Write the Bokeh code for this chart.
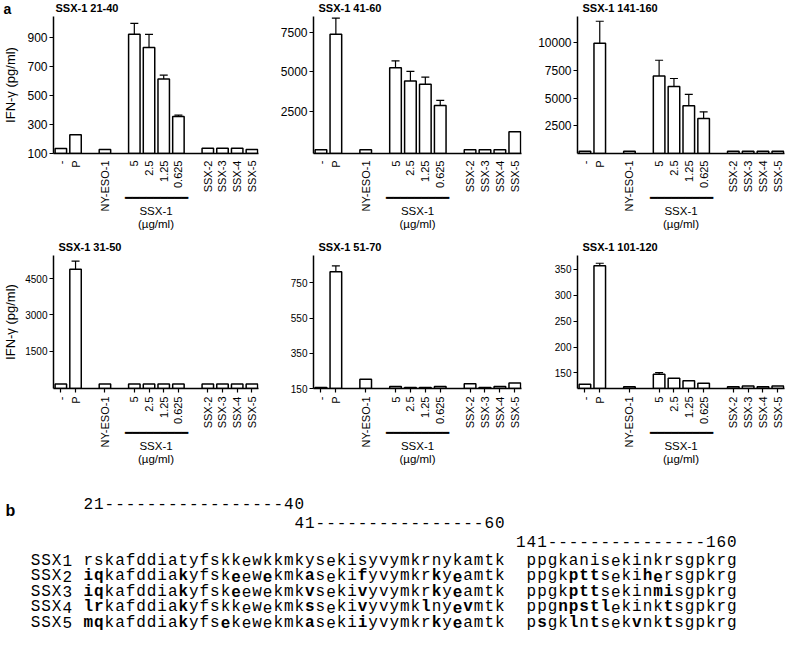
import math
from bokeh.plotting import figure
from bokeh.models import (Range1d, FixedTicker, LinearAxis, ColumnDataSource,
                          Whisker, TeeHead)
from bokeh.layouts import column, row
from bokeh.embed import file_html
from bokeh.resources import INLINE
from bokeh.core.properties import value

# ---------------- data ----------------
categories = ["-", "P", "NY-ESO-1", "5", "2.5", "1.25", "0.625",
              "SSX-2", "SSX-3", "SSX-4", "SSX-5"]
category_groups = [2, 1, 4, 4]
conc_group_label = ["SSX-1", "(µg/ml)"]

titles = ["SSX-1 21-40", "SSX-1 41-60", "SSX-1 141-160",
          "SSX-1 31-50", "SSX-1 51-70", "SSX-1 101-120"]
panel_letters = ["a", "b"]

ifn_21_40 = [135, 230, 128, 923, 832, 614, 355, 137, 137, 137, 128]
err_21_40 = [0, 0, 0, 75, 90, 26, 10, 0, 0, 0, 0]
ifn_41_60 = [120, 7360, 120, 5270, 4430, 4220, 2890, 120, 120, 120, 1250]
err_41_60 = [0, 1020, 0, 430, 610, 460, 320, 0, 0, 0, 0]
ifn_141_160 = [200, 9950, 200, 7000, 6050, 4310, 3160, 200, 200, 200, 200]
err_141_160 = [0, 1990, 0, 1420, 720, 1030, 600, 0, 0, 0, 0]
ifn_31_50 = [150, 4880, 150, 150, 150, 150, 150, 150, 150, 150, 150]
err_31_50 = [0, 340, 0, 0, 0, 0, 0, 0, 0, 0, 0]
ifn_51_70 = [155, 813, 202, 161, 155, 155, 161, 177, 155, 161, 181]
err_51_70 = [0, 33, 0, 0, 0, 0, 0, 0, 0, 0, 0]
ifn_101_120 = [128, 357, 123.5, 147.5, 140, 135, 130, 123.5, 125, 123.5, 125]
err_101_120 = [0, 5, 0, 3, 0, 0, 0, 0, 0, 0, 0]

yticks_21_40 = [100, 300, 500, 700, 900]
yticks_41_60 = [2500, 5000, 7500]
yticks_141_160 = [2500, 5000, 7500, 10000]
yticks_31_50 = [1500, 3000, 4500]
yticks_51_70 = [150, 350, 550, 750]
yticks_101_120 = [150, 200, 250, 300, 350]

y_label = "IFN-γ (pg/ml)"

# panel b: sequence alignment
seq_names = ["SSX1", "SSX2", "SSX3", "SSX4", "SSX5"]
seq_21_60 = ["rskafddiatyfskkewkkmkysekisyvymkrnykamtk",
             "iqkafddiakyfskeewekmkasekifyvymkrkyeamtk",
             "iqkafddiakyfskeewekmkvsekivyvymkrkyeamtk",
             "lrkafddiakyfskkewekmkssekivyvymklnyevmtk",
             "mqkafddiakyfsekewekmkasekiiyvymkrkyeamtk"]
bold_21_60 = [[],
              [0, 1, 9, 14, 17, 21, 26, 33, 35],
              [0, 1, 9, 14, 21, 26, 33, 35],
              [0, 1, 9, 21, 26, 32, 35, 36],
              [0, 1, 9, 13, 21, 26, 33, 35]]
seq_141_160 = ["ppgkanisekinkrsgpkrg",
               "ppgkpttsekihersgpkrg",
               "ppgkpttsekinmisgpkrg",
               "ppgnpstlekinktsgpkrg",
               "psgklntsekvnktsgpkrg"]
bold_141_160 = [[],
                [4, 5, 6, 11, 12],
                [4, 5, 6, 12, 13],
                [3, 4, 5, 6, 7, 13],
                [1, 4, 6, 10, 13]]
headers = ["21-----------------40", "41----------------60", "141---------------160"]

# ---------------- layout / style ----------------
FONT = "Liberation Sans"
MONO = "Liberation Mono"

xpos = []
_p = 0
for g in category_groups:
    for _ in range(g):
        xpos.append(_p)
        _p += 1
    _p += 1
X_RANGE = (-0.5, 13.45)

W = [265, 260, 260]      # figure widths per column
L = [50, 48, 52]         # left borders
R = [7, 4, 1]            # right borders
TOTAL_W = sum(W)
STRIP_H = 16
ROW1_H, ROW1_TOP, ROW1_BOTTOM = 216, 0, 77
ROW2_H, ROW2_TOP, ROW2_BOTTOM = 235, 23, 74
B_H = 181


def make_panel(title, vals, errs, yticks, yr, col, height, top, bottom,
               bottom_row, ylabel=None):
    width, left, right = W[col], L[col], R[col]
    p = figure(width=width, height=height, x_range=Range1d(*X_RANGE), y_range=Range1d(*yr),
               output_backend="svg", toolbar_location=None, x_axis_type=None, y_axis_type=None,
               min_border_left=left, min_border_right=right, min_border_top=top,
               min_border_bottom=bottom)
    p.outline_line_color = None
    p.background_fill_color = "white"
    p.border_fill_color = "white"
    if title:
        p.title.text = title
        p.title.text_font = FONT
        p.title.text_font_size = "11px"
        p.title.text_font_style = "bold"
        p.title.text_color = "black"
        p.title.align = "left"
        p.title.offset = 5
        p.title.standoff = 5

    src = ColumnDataSource(dict(x=xpos, top=vals))
    p.vbar(x="x", top="top", bottom=yr[0], width=0.78, source=src,
           fill_color="white", line_color="black", line_width=1.5)

    ex, eu, el = [], [], []
    for x, v, e in zip(xpos, vals, errs):
        if e > 0:
            ex.append(x); eu.append(v + e); el.append(v - e)
    esrc = ColumnDataSource(dict(x=ex, upper=eu, lower=el))
    p.add_layout(Whisker(source=esrc, base="x", upper="upper", lower="lower",
                         line_color="black", line_width=1.2,
                         upper_head=TeeHead(size=8, line_color="black", line_width=1.2),
                         lower_head=TeeHead(size=8, line_color="black", line_width=1.2)))

    xa = LinearAxis(ticker=FixedTicker(ticks=xpos, minor_ticks=[]),
                    major_label_overrides={x: c for x, c in zip(xpos, categories)},
                    major_label_orientation=math.pi / 2,
                    major_label_text_font=FONT, major_label_text_font_size="11px",
                    major_label_text_color="black",
                    axis_line_color="black", axis_line_width=1.5,
                    major_tick_line_color="black", major_tick_line_width=1.2,
                    major_tick_in=0, major_tick_out=4 if bottom_row else 0,
                    minor_tick_in=0, minor_tick_out=0,
                    major_label_standoff=4 if bottom_row else 7,
                    axis_label="━━━━━━━━━\n" + conc_group_label[0] + "\n" + conc_group_label[1],
                    axis_label_text_font=FONT, axis_label_text_font_size="11.5px",
                    axis_label_text_font_style="normal", axis_label_text_color="black",
                    axis_label_text_line_height=1.05,
                    axis_label_standoff=-23 if bottom_row else -22)
    p.add_layout(xa, "below")

    ya = LinearAxis(ticker=FixedTicker(ticks=yticks, minor_ticks=[]),
                    major_label_text_font=FONT,
                    major_label_text_font_size="10px" if bottom_row else "12px",
                    major_label_text_color="black",
                    axis_line_color="black", axis_line_width=1.5,
                    major_tick_line_color="black", major_tick_line_width=1.2,
                    major_tick_in=0, major_tick_out=4, minor_tick_in=0, minor_tick_out=0,
                    major_label_standoff=2)
    if ylabel:
        ya.axis_label = ylabel
        ya.axis_label_text_font = FONT
        ya.axis_label_text_font_size = "13px"
        ya.axis_label_text_font_style = "normal"
        ya.axis_label_text_color = "black"
        ya.axis_label_standoff = 4 if bottom_row else 6
    p.add_layout(ya, "left")
    return p


# top strip with panel letter "a" and the titles of the first row
strip = figure(width=TOTAL_W, height=STRIP_H, x_range=Range1d(0, TOTAL_W),
               y_range=Range1d(STRIP_H, 0), output_backend="svg", toolbar_location=None,
               x_axis_type=None, y_axis_type=None, min_border=0)
strip.outline_line_color = None
frame_lefts = [L[0], W[0] + L[1], W[0] + W[1] + L[2]]
strip.text(x=[3], y=[8], text=[panel_letters[0]], text_font=value(FONT),
           text_font_size=value("14px"), text_font_style="bold", text_align="left",
           text_baseline="middle", text_color="black")
strip.text(x=[fl + 5 for fl in frame_lefts], y=[7.5, 7.5, 7.5], text=titles[:3],
           text_font=value(FONT), text_font_size=value("11px"), text_font_style="bold",
           text_align="left", text_baseline="middle", text_color="black")

f1 = make_panel(None, ifn_21_40, err_21_40, yticks_21_40, (100, 1045),
                0, ROW1_H, ROW1_TOP, ROW1_BOTTOM, False, ylabel=y_label)
f2 = make_panel(None, ifn_41_60, err_41_60, yticks_41_60, (-120, 8480),
                1, ROW1_H, ROW1_TOP, ROW1_BOTTOM, False)
f3 = make_panel(None, ifn_141_160, err_141_160, yticks_141_160, (0, 12370),
                2, ROW1_H, ROW1_TOP, ROW1_BOTTOM, False)
f4 = make_panel(titles[3], ifn_31_50, err_31_50, yticks_31_50, (-40, 5450),
                0, ROW2_H, ROW2_TOP, ROW2_BOTTOM, True, ylabel=y_label)
f5 = make_panel(titles[4], ifn_51_70, err_51_70, yticks_51_70, (150, 905),
                1, ROW2_H, ROW2_TOP, ROW2_BOTTOM, True)
f6 = make_panel(titles[5], ifn_101_120, err_101_120, yticks_101_120, (120, 377),
                2, ROW2_H, ROW2_TOP, ROW2_BOTTOM, True)

# ---------------- panel b ----------------
CW = 10.55                       # px per character column
B_TOP = STRIP_H + ROW1_H + ROW2_H  # page y of panel-b top
x0 = -83 / CW                     # column 0 at page x = 83
pb = figure(width=TOTAL_W, height=B_H, x_range=Range1d(x0, x0 + TOTAL_W / CW),
            y_range=Range1d(B_TOP + B_H, B_TOP), output_backend="svg",
            toolbar_location=None, x_axis_type=None, y_axis_type=None, min_border=0)
pb.outline_line_color = None
pb.border_fill_color = "white"

header_cols = [0, 20, 41]
header_y = [503, 522, 541]
row_y = [560, 575.5, 591, 606.5, 622]
block2_col = 42
SEQ_SIZE = "16px"

nx, ny, nt, bx, by, bt = [], [], [], [], [], []
for s, c, y in zip(headers, header_cols, header_y):
    for i, ch in enumerate(s):
        nx.append(c + i); ny.append(y); nt.append(ch)
for r, name in enumerate(seq_names):
    y = row_y[r]
    for i, ch in enumerate(name):
        nx.append(-5 + i); ny.append(y); nt.append(ch)
    for i, ch in enumerate(seq_21_60[r]):
        if i in bold_21_60[r]:
            bx.append(i); by.append(y); bt.append(ch)
        else:
            nx.append(i); ny.append(y); nt.append(ch)
    for i, ch in enumerate(seq_141_160[r]):
        if i in bold_141_160[r]:
            bx.append(block2_col + i); by.append(y); bt.append(ch)
        else:
            nx.append(block2_col + i); ny.append(y); nt.append(ch)

pb.text(x="x", y="y", text="t", source=ColumnDataSource(dict(x=nx, y=ny, t=nt)),
        text_font=value(MONO), text_font_size=value(SEQ_SIZE), text_align="left",
        text_baseline="middle", text_color="black")
pb.text(x="x", y="y", text="t", source=ColumnDataSource(dict(x=bx, y=by, t=bt)),
        text_font=value(MONO), text_font_size=value(SEQ_SIZE), text_font_style="bold",
        text_align="left", text_baseline="middle", text_color="black")
pb.text(x=[x0 + 5 / CW], y=[510], text=[panel_letters[1]], text_font=value(FONT),
        text_font_size=value("16px"), text_font_style="bold", text_align="left",
        text_baseline="middle", text_color="black")

layout = column(strip, row(f1, f2, f3), row(f4, f5, f6), pb)
open("out.html", "w").write(file_html(layout, INLINE))
